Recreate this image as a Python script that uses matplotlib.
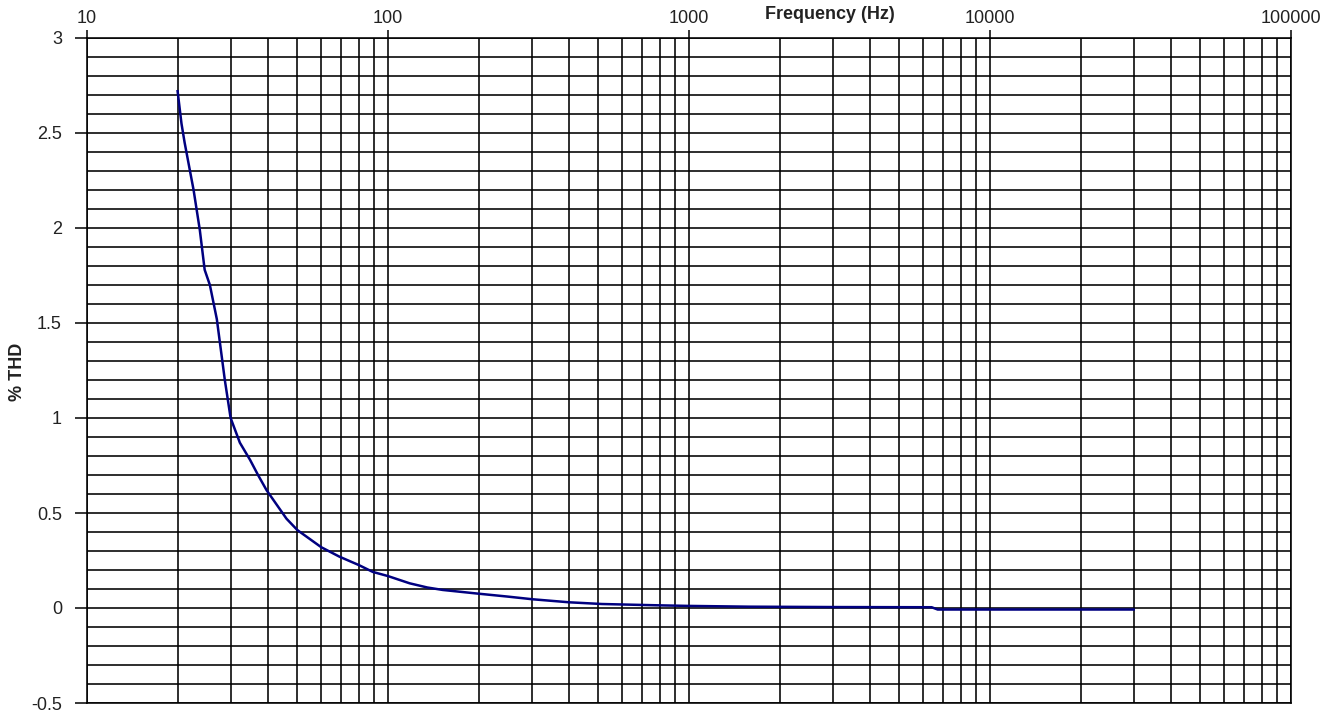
import matplotlib
matplotlib.use("Agg")
import matplotlib.pyplot as plt
from matplotlib.ticker import LogLocator, FixedLocator, MultipleLocator, NullFormatter

plt.rcParams['font.family'] = ['Liberation Sans', 'DejaVu Sans']

freq = [20, 20.6, 21.1, 22.6, 23.7, 24.6, 25.6, 27.0, 28.7, 30, 32.2, 34.8, 37,
        39.5, 46, 50, 60, 69, 80, 89, 100, 118, 135, 152, 198, 250, 302, 400, 514,
        795, 1000, 1581, 3000, 6400, 6700, 10000, 20000, 30000]
thd = [2.72, 2.55, 2.45, 2.2, 1.99, 1.78, 1.70, 1.52, 1.2, 1.0, 0.87, 0.78, 0.70,
       0.62, 0.47, 0.41, 0.32, 0.27, 0.226, 0.19, 0.168, 0.13, 0.108, 0.095, 0.076,
       0.06, 0.046, 0.03, 0.021, 0.014, 0.011, 0.007, 0.005, 0.004, -0.008, -0.008,
       -0.008, -0.008]

x_ticks = [10, 100, 1000, 10000, 100000]
x_labels = ["10", "100", "1000", "10000", "100000"]
y_ticks = [-0.5, 0, 0.5, 1, 1.5, 2, 2.5, 3]
y_labels = ["-0.5", "0", "0.5", "1", "1.5", "2", "2.5", "3"]

fig = plt.figure(figsize=(13.36, 7.17), dpi=100)
ax = fig.add_axes([87/1336, 1 - 703/717, (1291-87)/1336, (703-38)/717])

ax.plot(freq, thd, color="#000080", lw=1.8, zorder=3)

ax.set_xscale("log")
ax.set_xlim(10, 100000)
ax.set_ylim(-0.5, 3)

ax.set_xticks(x_ticks)
ax.set_xticklabels(x_labels)
ax.xaxis.set_minor_locator(LogLocator(base=10, subs=range(2, 10), numticks=20))
ax.xaxis.set_minor_formatter(NullFormatter())
ax.set_yticks(y_ticks)
ax.set_yticklabels(y_labels)
ax.yaxis.set_minor_locator(MultipleLocator(0.1))

ax.xaxis.tick_top()
ax.tick_params(axis="x", which="major", direction="out", length=6, width=1.1,
               pad=2, labelsize=13, colors="black", labelcolor="#222222")
ax.tick_params(axis="x", which="minor", length=0)
ax.tick_params(axis="y", which="major", direction="out", length=9, width=1.1,
               pad=9, labelsize=13, labelcolor="#222222")
ax.tick_params(axis="y", which="minor", length=0)

ax.grid(True, which="both", axis="both", color="black", lw=1.15)
ax.set_axisbelow(True)
for s in ax.spines.values():
    s.set_color("black")
    s.set_linewidth(1.15)

ax.text(0.617, 1.036, "Frequency (Hz)", transform=ax.transAxes, ha="center",
        va="center", fontsize=13, fontweight="bold", color="#222222")
fig.text(18/1336, 1 - 372/717, "% THD", rotation=90, ha="center", va="center",
         fontsize=13, fontweight="bold", color="#222222")

fig.savefig("out.png", dpi=100)
